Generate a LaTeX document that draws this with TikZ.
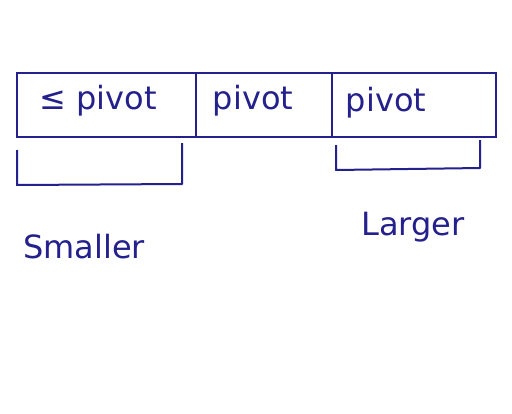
\documentclass[tikz,border=0pt]{standalone}
\usepackage{fontspec}
\setmainfont{DejaVu Sans}
\definecolor{ink}{RGB}{36,32,140}
\begin{document}
\begin{tikzpicture}[x=1pt,y=-1pt,
  cell/.style={draw=ink,line width=2pt,minimum height=64pt,inner sep=0pt,anchor=north west},
  lbl/.style={text=ink,font=\fontsize{32}{36}\selectfont,inner sep=0pt},
  brk/.style={draw=ink,line width=2pt,line join=round}]
\useasboundingbox (0,0) rectangle (512,413);
\fill[white] (0,0) rectangle (512,413);
\node[cell,minimum width=179pt] (c1) at (16,72) {};
\node[cell,minimum width=136pt] (c2) at (195,72) {};
\node[cell,minimum width=164pt] (c3) at (331,72) {};
\node[lbl] (t1) at (98,101) {≤ pivot};
\node[lbl] (t2) at (253,101) {pivot};
\node[lbl] (t3) at (386,103) {pivot};
\coordinate (l1) at (17,150);
\coordinate (l2) at (17,185);
\coordinate (l3) at (182,184);
\coordinate (l4) at (182,143);
\draw[brk] (l1) -- (l2) -- (l3) -- (l4);
\coordinate (r1) at (336,145);
\coordinate (r2) at (336,170);
\coordinate (r3) at (480,168);
\coordinate (r4) at (480,140);
\draw[brk] (r1) -- (r2) -- (r3) -- (r4);
\node[lbl] (sm) at (84,247) {Smaller};
\node[lbl] (lg) at (413,227) {Larger};
\end{tikzpicture}
\end{document}
